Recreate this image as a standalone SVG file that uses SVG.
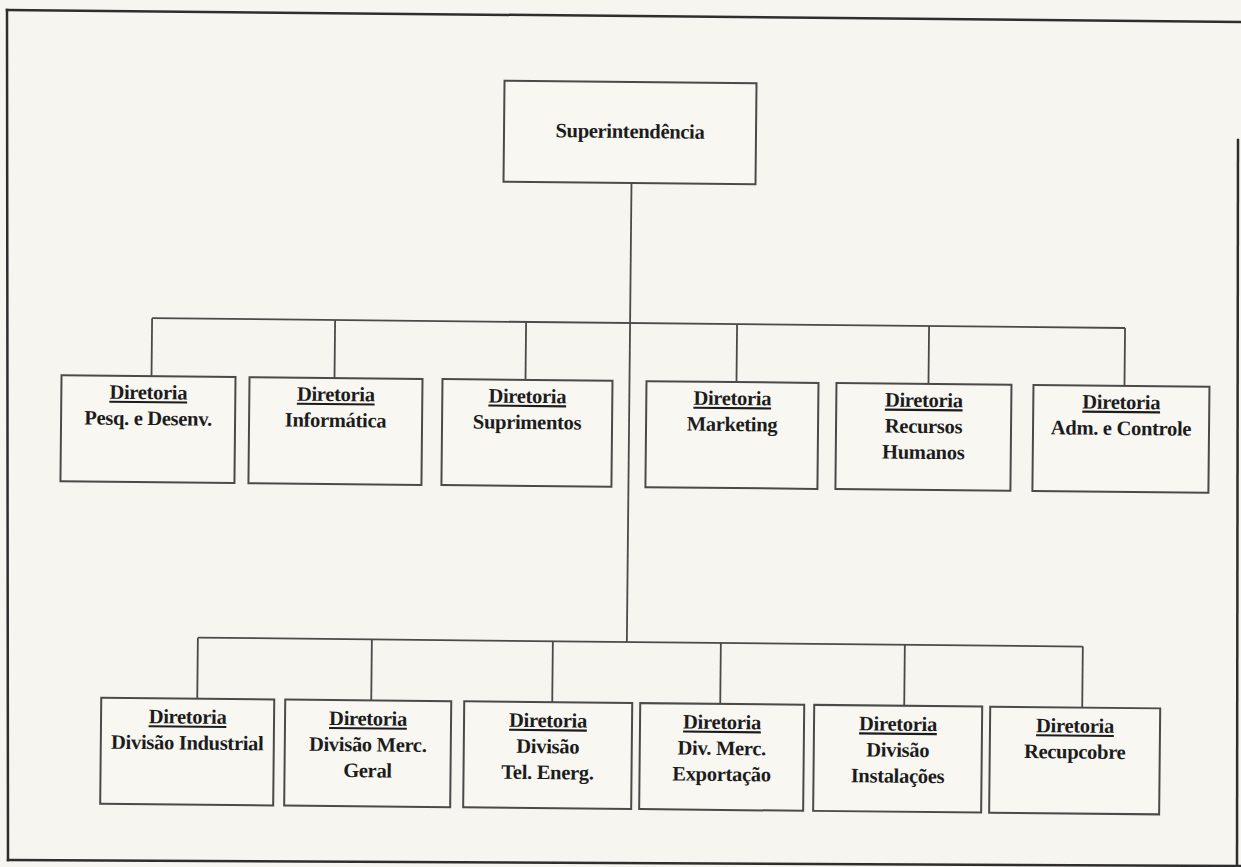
<svg xmlns="http://www.w3.org/2000/svg" width="1241" height="867" viewBox="0 0 1241 867">
  <style>
    .bg { fill: #f6f5ef; }
    .frame { fill: none; stroke: #2e2e2e; stroke-width: 2.5; stroke-linecap: square; }
    .box { fill: #f8f7f2; stroke: #4a4a4a; stroke-width: 2; }
    .wire { fill: none; stroke: #4a4a4a; stroke-width: 1.8; }
    .lbl { font-family: "Liberation Serif", "Times New Roman", serif; font-weight: bold; font-size: 20.5px; fill: #1c1c1c; text-anchor: middle; letter-spacing: -0.3px; }
    .hd { text-decoration: underline; }
  </style>

  <rect class="bg" x="0" y="0" width="1241" height="867"/>

  <!-- page border -->
  <g id="border">
    <line class="frame" x1="7" y1="10" x2="1241" y2="22"/>
    <line class="frame" x1="7" y1="10" x2="8" y2="860"/>
    <line class="frame" x1="8" y1="860" x2="1241" y2="866"/>
    <line class="frame" x1="1238" y1="140" x2="1237" y2="867"/>
  </g>

  <g transform="rotate(0.58 630 430)">
    <!-- connectors -->
    <g id="connectors">
      <line class="wire" x1="629" y1="183" x2="629" y2="642"/>
      <line class="wire" x1="151" y1="323" x2="1124" y2="323"/>
      <line class="wire" x1="151" y1="323" x2="151" y2="381"/>
      <line class="wire" x1="334" y1="323" x2="334" y2="381"/>
      <line class="wire" x1="525" y1="323" x2="525" y2="381"/>
      <line class="wire" x1="736" y1="323" x2="736" y2="381"/>
      <line class="wire" x1="928" y1="323" x2="928" y2="381"/>
      <line class="wire" x1="1124" y1="323" x2="1124" y2="381"/>
      <line class="wire" x1="200" y1="642" x2="1085" y2="642"/>
      <line class="wire" x1="200" y1="642" x2="200" y2="703"/>
      <line class="wire" x1="374" y1="642" x2="374" y2="703"/>
      <line class="wire" x1="555" y1="642" x2="555" y2="703"/>
      <line class="wire" x1="723" y1="642" x2="723" y2="703"/>
      <line class="wire" x1="907" y1="642" x2="907" y2="703"/>
      <line class="wire" x1="1085" y1="642" x2="1085" y2="703"/>
    </g>

    <g id="superintendencia">
      <rect class="box" x="501" y="82" width="252" height="101"/>
      <text class="lbl" x="627" y="138" font-size="20">Superintendência</text>
    </g>

    <!-- first level -->
    <g id="dir-pesq">
      <rect class="box" x="61" y="381" width="174" height="106"/>
      <text class="lbl" x="148" y="404"><tspan class="hd">Diretoria</tspan><tspan x="148" dy="26">Pesq. e Desenv.</tspan></text>
    </g>
    <g id="dir-informatica">
      <rect class="box" x="249" y="381" width="173" height="106"/>
      <text class="lbl" x="335.5" y="404"><tspan class="hd">Diretoria</tspan><tspan x="335.5" dy="26">Informática</tspan></text>
    </g>
    <g id="dir-suprimentos">
      <rect class="box" x="442" y="381" width="170" height="106"/>
      <text class="lbl" x="527" y="404"><tspan class="hd">Diretoria</tspan><tspan x="527" dy="26">Suprimentos</tspan></text>
    </g>
    <g id="dir-marketing">
      <rect class="box" x="646" y="381" width="172" height="106"/>
      <text class="lbl" x="732" y="404"><tspan class="hd">Diretoria</tspan><tspan x="732" dy="26">Marketing</tspan></text>
    </g>
    <g id="dir-rh">
      <rect class="box" x="836" y="381" width="175" height="106"/>
      <text class="lbl" x="923.5" y="404"><tspan class="hd">Diretoria</tspan><tspan x="923.5" dy="26">Recursos</tspan><tspan x="923.5" dy="26">Humanos</tspan></text>
    </g>
    <g id="dir-adm">
      <rect class="box" x="1033" y="381" width="176" height="106"/>
      <text class="lbl" x="1121" y="404"><tspan class="hd">Diretoria</tspan><tspan x="1121" dy="26">Adm. e Controle</tspan></text>
    </g>

    <!-- divisions -->
    <g id="div-industrial">
      <rect class="box" x="104" y="703" width="173" height="106"/>
      <text class="lbl" x="190.5" y="728"><tspan class="hd">Diretoria</tspan><tspan x="190.5" dy="26">Divisão Industrial</tspan></text>
    </g>
    <g id="div-merc-geral">
      <rect class="box" x="288" y="703" width="166" height="106"/>
      <text class="lbl" x="371" y="728"><tspan class="hd">Diretoria</tspan><tspan x="371" dy="26">Divisão Merc.</tspan><tspan x="371" dy="26">Geral</tspan></text>
    </g>
    <g id="div-tel-energ">
      <rect class="box" x="467" y="703" width="168" height="106"/>
      <text class="lbl" x="551" y="728"><tspan class="hd">Diretoria</tspan><tspan x="551" dy="26">Divisão</tspan><tspan x="551" dy="26">Tel. Energ.</tspan></text>
    </g>
    <g id="div-exportacao">
      <rect class="box" x="643" y="703" width="164" height="106"/>
      <text class="lbl" x="725" y="728"><tspan class="hd">Diretoria</tspan><tspan x="725" dy="26">Div. Merc.</tspan><tspan x="725" dy="26">Exportação</tspan></text>
    </g>
    <g id="div-instalacoes">
      <rect class="box" x="817" y="703" width="168" height="106"/>
      <text class="lbl" x="901" y="728"><tspan class="hd">Diretoria</tspan><tspan x="901" dy="26">Divisão</tspan><tspan x="901" dy="26">Instalações</tspan></text>
    </g>
    <g id="div-recupcobre">
      <rect class="box" x="993" y="703" width="170" height="106"/>
      <text class="lbl" x="1078" y="728"><tspan class="hd">Diretoria</tspan><tspan x="1078" dy="26">Recupcobre</tspan></text>
    </g>
  </g>
</svg>
